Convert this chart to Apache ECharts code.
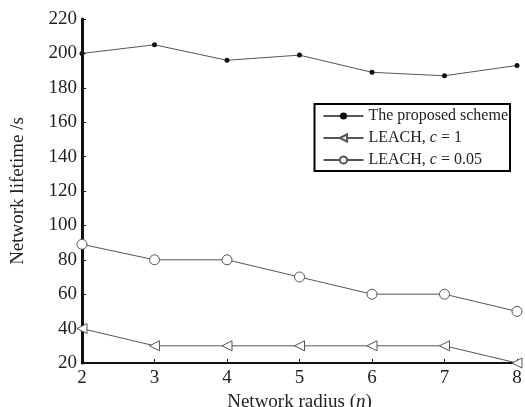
<!DOCTYPE html>
<html>
<head>
<meta charset="utf-8">
<script src="https://cdn.jsdelivr.net/npm/echarts@6/dist/echarts.min.js"></script>
<style>
  html, body { margin: 0; padding: 0; background: #fff; }
  #chart { width: 525px; height: 407px; }
</style>
</head>
<body>
<div id="chart"></div>
<script>
// 网络半径
var radius = [2, 3, 4, 5, 6, 7, 8];
// 三条曲线
var proposed = [200, 205, 196, 199, 189, 187, 193];
var leach1 = [40, 30, 30, 30, 30, 30, 20];
var leach005 = [89, 80, 80, 70, 60, 60, 50];

function pairs(vals) {
  return radius.map(function (r, i) { return [r, vals[i]]; });
}

var font = '"Liberation Serif", "DejaVu Serif", serif';
var chart = echarts.init(document.getElementById('chart'));

chart.setOption({
  animation: false,
  backgroundColor: '#fff',
  grid: { left: 82, right: 8, top: 19, bottom: 44, outerBoundsMode: 'none', containLabel: false },
  legend: {
    right: 15,
    top: 104,
    orient: 'vertical',
    backgroundColor: '#fff',
    borderColor: '#000',
    borderWidth: 2,
    borderRadius: 0,
    padding: [4, 2, 3, 8],
    itemGap: 6,
    itemWidth: 40,
    itemHeight: 9,
    textStyle: {
      fontFamily: font, fontSize: 16, color: '#222',
      rich: {
        n: { fontFamily: font, fontSize: 16, color: '#222' },
        i: { fontFamily: font, fontSize: 16, color: '#222', fontStyle: 'italic' }
      }
    },
    formatter: function (name) {
      if (name === 'LEACH1') return '{n|LEACH, }{i|c}{n| = 1}';
      if (name === 'LEACH005') return '{n|LEACH, }{i|c}{n| = 0.05}';
      return name;
    },
    data: ['The proposed scheme', 'LEACH1', 'LEACH005']
  },
  xAxis: {
    type: 'value',
    min: 2, max: 8, interval: 1,
    name: '{n|Network radius (}{i|n}{n|)}',
    nameLocation: 'middle',
    nameGap: 23,
    nameTextStyle: {
      fontFamily: font, fontSize: 19, color: '#222',
      rich: {
        n: { fontFamily: font, fontSize: 19, color: '#222' },
        i: { fontFamily: font, fontSize: 19, color: '#222', fontStyle: 'italic' }
      }
    },
    axisLine: { show: true, lineStyle: { color: '#111', width: 2 } },
    axisTick: { show: true, inside: true, length: 4, lineStyle: { color: '#111' } },
    axisLabel: { fontFamily: font, fontSize: 19, color: '#222', margin: 6 },
    splitLine: { show: false }
  },
  yAxis: {
    type: 'value',
    min: 20, max: 220, interval: 20,
    name: 'Network lifetime /s',
    nameLocation: 'middle',
    nameGap: 54,
    nameTextStyle: { fontFamily: font, fontSize: 19, color: '#222' },
    axisLine: { show: true, lineStyle: { color: '#111', width: 3 } },
    axisTick: { show: true, inside: true, length: 4, lineStyle: { color: '#111' } },
    axisLabel: { fontFamily: font, fontSize: 19, color: '#222', margin: 5 },
    splitLine: { show: false }
  },
  series: [
    {
      name: 'The proposed scheme',
      type: 'line',
      data: pairs(proposed),
      symbol: 'circle',
      symbolSize: 5,
      lineStyle: { color: '#555', width: 1 },
      itemStyle: { color: '#111' }
    },
    {
      name: 'LEACH1',
      type: 'line',
      data: pairs(leach1),
      symbol: 'triangle',
      symbolRotate: 90,
      symbolSize: 10,
      lineStyle: { color: '#555', width: 1 },
      itemStyle: { color: '#fff', borderColor: '#555', borderWidth: 1 }
    },
    {
      name: 'LEACH005',
      type: 'line',
      data: pairs(leach005),
      symbol: 'circle',
      symbolSize: 10,
      lineStyle: { color: '#555', width: 1 },
      itemStyle: { color: '#fff', borderColor: '#555', borderWidth: 1 }
    }
  ]
});
</script>
</body>
</html>
